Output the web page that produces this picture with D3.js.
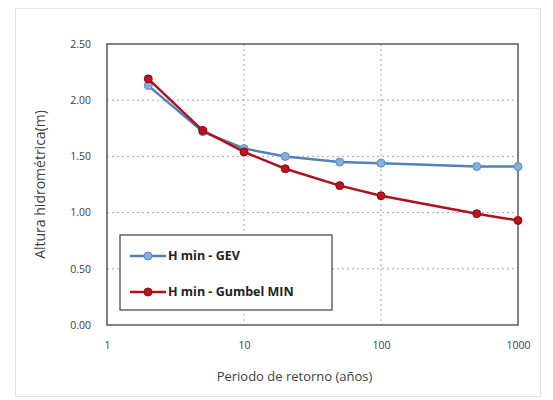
<!DOCTYPE html>
<html>
<head>
<meta charset="utf-8">
<script src="https://cdn.jsdelivr.net/npm/d3@7"></script>
<style>
  body { margin: 0; background: #fff; }
  text { font-family: "Open Sans", "Liberation Sans", sans-serif; }
</style>
</head>
<body>
<div class="chart"></div>
<script>
// Data
var periods = [2, 5, 10, 20, 50, 100, 500, 1000];
var gevValues = [2.13, 1.72, 1.57, 1.50, 1.45, 1.44, 1.41, 1.41];
var gumbelValues = [2.19, 1.73, 1.54, 1.39, 1.24, 1.15, 0.99, 0.93];
var seriesNames = ["H min - GEV", "H min - Gumbel MIN"];
var yTicks = [0, 0.5, 1, 1.5, 2, 2.5];
var xTicks = [1, 10, 100, 1000];

var svgWidth = 553;
var svgHeight = 400;
var margin = {top: 44, right: 35, bottom: 75, left: 107};
var width = svgWidth - margin.left - margin.right;
var height = svgHeight - margin.top - margin.bottom;

var svg = d3.select(".chart")
    .append("svg")
    .attr("width", svgWidth)
    .attr("height", svgHeight);

// outer chart frame
svg.append("rect")
    .attr("x", 15.5).attr("y", 8.5)
    .attr("width", 525).attr("height", 388)
    .attr("fill", "none")
    .attr("stroke", "#e4e4e4");

var chartGroup = svg.append("g")
    .attr("transform", "translate(" + margin.left + "," + margin.top + ")");

var xScale = d3.scaleLog().domain([1, 1000]).range([0, width]);
var yScale = d3.scaleLinear().domain([0, 2.5]).range([height, 0]);

// gridlines
chartGroup.selectAll(".hgrid")
    .data(yTicks.slice(1, -1))
    .enter().append("line")
    .attr("x1", 0).attr("x2", width)
    .attr("y1", d => yScale(d)).attr("y2", d => yScale(d))
    .attr("stroke", "#a6a6a6")
    .attr("stroke-dasharray", "2,3");

chartGroup.selectAll(".vgrid")
    .data(xTicks.slice(1, -1))
    .enter().append("line")
    .attr("x1", d => xScale(d)).attr("x2", d => xScale(d))
    .attr("y1", 0).attr("y2", height)
    .attr("stroke", "#a6a6a6")
    .attr("stroke-dasharray", "2,3");

// plot border
chartGroup.append("rect")
    .attr("width", width).attr("height", height)
    .attr("fill", "none")
    .attr("stroke", "#595959")
    .attr("stroke-width", 1.5);

// axes
var bottomAxis = d3.axisBottom(xScale).tickValues(xTicks).tickFormat(d3.format("d")).tickSize(0).tickPadding(17);
var leftAxis = d3.axisLeft(yScale).tickValues(yTicks).tickFormat(d3.format(".2f")).tickSize(0).tickPadding(16);

var xg = chartGroup.append("g")
    .attr("transform", `translate(0, ${height})`)
    .call(bottomAxis);
var yg = chartGroup.append("g").call(leftAxis);
[xg, yg].forEach(function(g) {
    g.select(".domain").remove();
    g.selectAll("text").attr("font-size", 10.5).attr("fill", "#404040")
        .style("font-family", "'Open Sans', sans-serif");
});

// series
var series = [
    {name: seriesNames[0], values: gevValues, line: "#4f81bd", marker: "#86b0dc", mstroke: "#5b8cc4"},
    {name: seriesNames[1], values: gumbelValues, line: "#b0101c", marker: "#c0121e", mstroke: "#8a0a12"}
];

var line = d3.line()
    .x((d, i) => xScale(periods[i]))
    .y(d => yScale(d));

series.forEach(function(s) {
    chartGroup.append("path")
        .datum(s.values)
        .attr("d", line)
        .attr("fill", "none")
        .attr("stroke", s.line)
        .attr("stroke-width", 2.5);

    chartGroup.selectAll(null)
        .data(s.values)
        .enter().append("circle")
        .attr("cx", (d, i) => xScale(periods[i]))
        .attr("cy", d => yScale(d))
        .attr("r", 4)
        .attr("fill", s.marker)
        .attr("stroke", s.mstroke)
        .attr("stroke-width", 1);
});

// legend
var legend = chartGroup.append("g")
    .attr("transform", "translate(13, 191)");
legend.append("rect")
    .attr("width", 212).attr("height", 75)
    .attr("fill", "#fff")
    .attr("stroke", "#404040")
    .attr("stroke-width", 1.2);

series.forEach(function(s, i) {
    var row = legend.append("g").attr("transform", `translate(0, ${21 + i * 36})`);
    row.append("line")
        .attr("x1", 10).attr("x2", 46)
        .attr("stroke", s.line).attr("stroke-width", 2.5);
    row.append("circle")
        .attr("cx", 28).attr("r", 4)
        .attr("fill", s.marker).attr("stroke", s.mstroke);
    row.append("text")
        .attr("x", 48).attr("dy", "0.35em")
        .attr("font-size", 12.5).attr("font-weight", "bold")
        .attr("fill", "#222")
        .text(s.name);
});

// axis labels
chartGroup.append("text")
    .attr("transform", "rotate(-90)")
    .attr("x", -height / 2)
    .attr("y", -62)
    .attr("text-anchor", "middle")
    .attr("font-size", 14)
    .attr("fill", "#404040")
    .text("Altura hidrométrica(m)");

chartGroup.append("text")
    .attr("x", width / 2 - 18)
    .attr("y", height + 56)
    .attr("text-anchor", "middle")
    .attr("font-size", 13)
    .attr("fill", "#404040")
    .text("Periodo de retorno (años)");
</script>
</body>
</html>
